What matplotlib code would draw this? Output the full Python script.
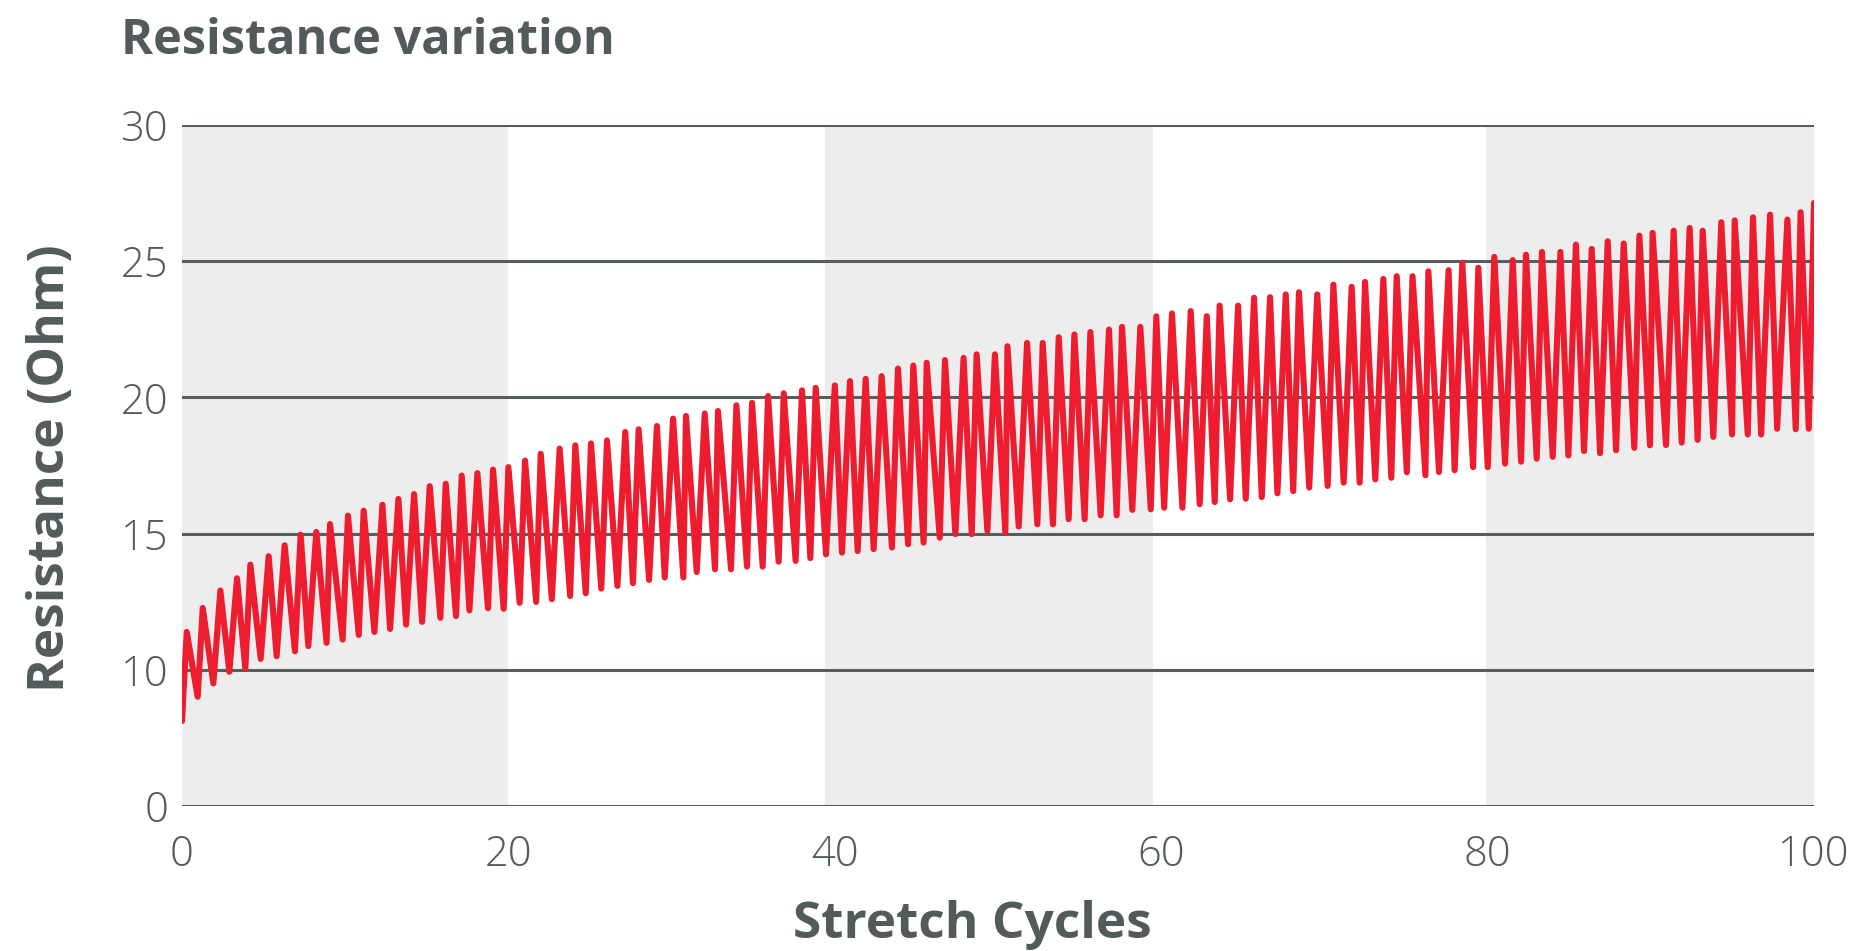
import matplotlib
matplotlib.use("Agg")
import matplotlib.pyplot as plt

# Stretch cycle position and measured resistance (alternating relaxed / stretched readings)
cycle_x = [
    0.00, 0.29, 0.96, 1.27, 1.92, 2.35, 2.90, 3.37, 3.88, 4.19,
    4.82, 5.31, 5.80, 6.29, 6.92, 7.27, 7.74, 8.23, 8.86, 9.07,
    9.84, 10.17, 10.83, 11.13, 11.79, 12.28, 12.75, 13.26, 13.73, 14.22,
    14.71, 15.18, 15.83, 16.16, 16.79, 17.14, 17.61, 18.10, 18.75, 19.06,
    19.71, 20.00, 20.69, 21.02, 21.70, 21.98, 22.66, 23.14, 23.78, 24.10,
    24.74, 25.06, 25.69, 26.04, 26.68, 27.16, 27.63, 27.98, 28.62, 29.10,
    29.58, 30.09, 30.72, 30.88, 31.54, 32.03, 32.66, 32.84, 33.64, 33.97,
    34.62, 34.93, 35.58, 35.91, 36.56, 36.87, 37.60, 37.99, 38.50, 38.83,
    39.46, 40.00, 40.44, 40.93, 41.40, 41.89, 42.38, 42.87, 43.50, 43.87,
    44.49, 44.81, 45.44, 45.63, 46.43, 46.75, 47.39, 47.89, 48.39, 48.69,
    49.35, 49.81, 50.45, 50.58, 51.27, 51.78, 52.41, 52.74, 53.37, 53.72,
    54.33, 54.68, 55.31, 55.66, 56.29, 56.80, 57.27, 57.60, 58.23, 58.72,
    59.36, 59.70, 60.18, 60.66, 61.30, 61.81, 62.36, 62.79, 63.28, 63.58,
    64.22, 64.71, 65.18, 65.69, 66.16, 66.67, 67.12, 67.63, 68.09, 68.44,
    69.07, 69.56, 70.20, 70.55, 71.18, 71.67, 72.16, 72.49, 73.12, 73.61,
    74.10, 74.43, 75.05, 75.40, 76.19, 76.37, 77.02, 77.61, 77.98, 78.45,
    79.11, 79.43, 80.01, 80.41, 81.07, 81.54, 82.05, 82.35, 83.01, 83.33,
    83.99, 84.46, 84.95, 85.41, 85.91, 86.38, 86.89, 87.36, 87.87, 88.34,
    88.99, 89.30, 89.95, 90.11, 90.93, 91.40, 91.89, 92.38, 92.87, 93.18,
    93.83, 94.32, 94.98, 95.14, 95.94, 96.26, 96.76, 97.31, 97.74, 98.37,
    98.88, 99.18, 99.68, 100.00,
]
resistance = [
    8.12, 11.39, 9.01, 12.27, 9.50, 12.91, 9.93, 13.36, 10.04, 13.86,
    10.40, 14.17, 10.50, 14.57, 10.68, 14.96, 10.87, 15.06, 10.99, 15.35,
    11.11, 15.66, 11.28, 15.84, 11.39, 16.06, 11.50, 16.27, 11.66, 16.45,
    11.76, 16.74, 11.91, 16.83, 11.97, 17.13, 12.18, 17.22, 12.26, 17.35,
    12.24, 17.44, 12.46, 17.68, 12.49, 17.93, 12.59, 18.12, 12.71, 18.24,
    12.81, 18.31, 12.98, 18.42, 13.08, 18.73, 13.18, 18.83, 13.30, 18.95,
    13.39, 19.22, 13.39, 19.32, 13.59, 19.41, 13.69, 19.50, 13.69, 19.71,
    13.79, 19.80, 13.79, 20.05, 13.97, 20.15, 14.00, 20.26, 14.10, 20.35,
    14.24, 20.44, 14.30, 20.60, 14.36, 20.68, 14.43, 20.78, 14.49, 21.06,
    14.61, 21.17, 14.67, 21.27, 14.85, 21.37, 14.98, 21.45, 14.98, 21.58,
    15.10, 21.58, 15.04, 21.88, 15.26, 22.00, 15.34, 22.00, 15.34, 22.21,
    15.53, 22.31, 15.53, 22.40, 15.67, 22.49, 15.67, 22.59, 15.87, 22.59,
    15.89, 22.98, 15.95, 23.08, 15.95, 23.17, 16.08, 22.98, 16.16, 23.37,
    16.26, 23.37, 16.28, 23.66, 16.34, 23.68, 16.48, 23.78, 16.56, 23.86,
    16.69, 23.78, 16.75, 24.14, 16.87, 24.06, 16.87, 24.24, 16.99, 24.35,
    17.05, 24.45, 17.25, 24.45, 17.14, 24.63, 17.26, 24.67, 17.33, 24.94,
    17.44, 24.76, 17.44, 25.16, 17.57, 25.04, 17.64, 25.24, 17.75, 25.34,
    17.82, 25.34, 17.87, 25.61, 18.03, 25.45, 17.95, 25.73, 18.06, 25.65,
    18.15, 25.94, 18.24, 26.04, 18.25, 26.12, 18.34, 26.22, 18.44, 26.12,
    18.55, 26.43, 18.64, 26.50, 18.64, 26.61, 18.64, 26.71, 18.85, 26.53,
    18.83, 26.80, 18.85, 27.14,
]

y_ticks = [5, 10, 15, 20, 25, 30]
y_tick_labels = ["0", "10", "15", "20", "25", "30"]
x_ticks = [0, 20, 40, 60, 80, 100]
# shaded background bands (start, end) along the cycle axis
band_ranges = [(0, 20), (39.4, 59.5), (79.9, 100)]

TEXT = "#525b5b"
GRID = "#555e5e"
BAND = "#ededed"
RED = "#ee1c2f"

fig = plt.figure(figsize=(18.65, 9.51), dpi=100)
ax = fig.add_axes([182 / 1865, 1 - 806 / 951, 1632 / 1865, 681 / 951])

for start, end in band_ranges:
    ax.axvspan(start, end, color=BAND, lw=0, zorder=0)

for yv in y_ticks:
    ax.axhline(yv, color=GRID, lw=2.2, zorder=1)

ax.plot(cycle_x, resistance, color=RED, lw=4.4, zorder=3,
        solid_joinstyle="round", solid_capstyle="round")

ax.set_xlim(0, 100)
ax.set_ylim(5, 30)
ax.set_xticks(x_ticks)
ax.set_yticks(y_ticks)
ax.set_yticklabels(y_tick_labels)
for s in ax.spines.values():
    s.set_visible(False)
ax.tick_params(axis="both", length=0, colors=TEXT, labelsize=30)
ax.tick_params(axis="x", pad=20)
ax.tick_params(axis="y", pad=10)
for lab in ax.get_xticklabels() + ax.get_yticklabels():
    lab.set_fontfamily("Open Sans")
    lab.set_fontweight("light")

fig.text(121 / 1865, 1 - 42 / 951, "Resistance variation", ha="left", va="center",
         fontsize=35, fontweight="bold", color=TEXT, family="Open Sans")
fig.text(972 / 1865, 1 - 925 / 951, "Stretch Cycles", ha="center", va="center",
         fontsize=37, fontweight="bold", color=TEXT, family="Open Sans")
fig.text(51 / 1865, 1 - 468 / 951, "Resistance (Ohm)", ha="center", va="center",
         rotation=90, fontsize=37, fontweight="bold", color=TEXT, family="Open Sans")

fig.savefig("out.png", dpi=100, facecolor="white")
